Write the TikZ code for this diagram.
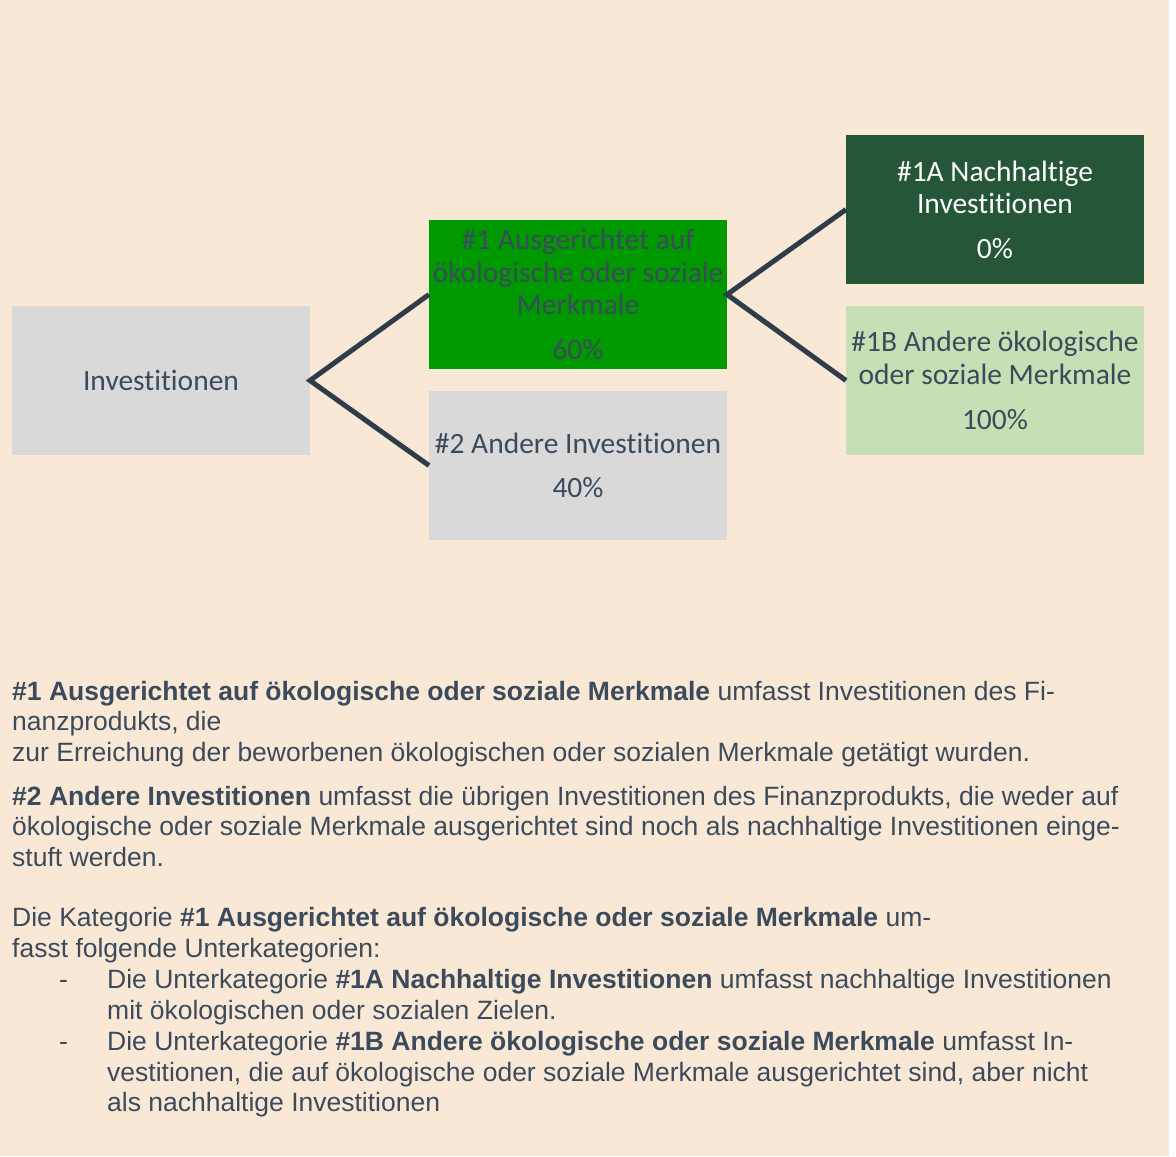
\documentclass[tikz,border=0pt]{standalone}
\usepackage{fontspec}
\setmainfont{Liberation Sans}
\newfontfamily\boxfont[Ligatures=CommonOff]{Carlito}
\definecolor{bgpeach}{HTML}{FAE8D7}
\definecolor{boxgrey}{HTML}{D9D9D9}
\definecolor{boxgreen}{HTML}{009900}
\definecolor{boxdark}{HTML}{245637}
\definecolor{boxlight}{HTML}{C5E0B4}
\definecolor{txt}{HTML}{3B4B5B}
\definecolor{linec}{HTML}{2F3D4B}
\tikzset{
  catbox/.style={minimum width=298pt, minimum height=149pt, inner sep=0pt, outer sep=0pt,
    align=center, text=txt, font=\boxfont\fontsize{29.5}{32.5}\selectfont},
  conn/.style={draw=linec, line width=5pt, line join=miter},
  bodyline/.style={anchor=base west, inner sep=0pt, text=txt, font=\fontsize{26.5}{30}\selectfont},
}
\begin{document}
\begin{tikzpicture}[x=1pt,y=-1pt]
\useasboundingbox (0,0) rectangle (1176,1157);
\fill[white] (0,0) rectangle (1176,1157);
\fill[bgpeach] (0,0) rectangle (1169,1156);

\node[catbox, fill=boxgrey] (inv) at (161,380.5) {Investitionen};
\node[catbox, fill=boxgreen] (c1) at (578,294.5) {\#1 Ausgerichtet auf\\ökologische oder soziale\\Merkmale\\[12pt]60\%};
\node[catbox, fill=boxgrey] (c2) at (578,465.5) {\#2 Andere Investitionen\\[12pt]40\%};
\node[catbox, fill=boxdark, text=white] (c1a) at (995,209.5) {\#1A Nachhaltige\\Investitionen\\[12pt]0\%};
\node[catbox, fill=boxlight] (c1b) at (995,380.5) {\#1B Andere ökologische\\oder soziale Merkmale\\[13pt]100\%};

\draw[conn] (c1.west) -- (inv.east) -- (c2.west);
\draw[conn] (c1a.west) -- (c1.east) -- (c1b.west);

\node[bodyline] (t1) at (12,700) {\textbf{\#1 Ausgerichtet auf ökologische oder soziale Merkmale} umfasst Investitionen des Fi-};
\node[bodyline] (t2) at (12,730) {nanzprodukts, die};
\node[bodyline] (t3) at (12,761) {zur Erreichung der beworbenen ökologischen oder sozialen Merkmale getätigt wurden.};
\node[bodyline] (t4) at (12,805) {\textbf{\#2 Andere Investitionen} umfasst die übrigen Investitionen des Finanzprodukts, die weder auf};
\node[bodyline] (t5) at (12,835) {ökologische oder soziale Merkmale ausgerichtet sind noch als nachhaltige Investitionen einge-};
\node[bodyline] (t6) at (12,866) {stuft werden.};
\node[bodyline] (t7) at (12,926) {Die Kategorie \textbf{\#1 Ausgerichtet auf ökologische oder soziale Merkmale} um-};
\node[bodyline] (t8) at (12,957) {fasst folgende Unterkategorien:};
\node[bodyline] (d1) at (59,988) {-};
\node[bodyline] (t9) at (107,988) {Die Unterkategorie \textbf{\#1A Nachhaltige Investitionen} umfasst nachhaltige Investitionen};
\node[bodyline] (t10) at (107,1019) {mit ökologischen oder sozialen Zielen.};
\node[bodyline] (d2) at (59,1050) {-};
\node[bodyline] (t11) at (107,1050) {Die Unterkategorie \textbf{\#1B Andere ökologische oder soziale Merkmale} umfasst In-};
\node[bodyline] (t12) at (107,1081) {vestitionen, die auf ökologische oder soziale Merkmale ausgerichtet sind, aber nicht};
\node[bodyline] (t13) at (107,1111) {als nachhaltige Investitionen};
\end{tikzpicture}
\end{document}
